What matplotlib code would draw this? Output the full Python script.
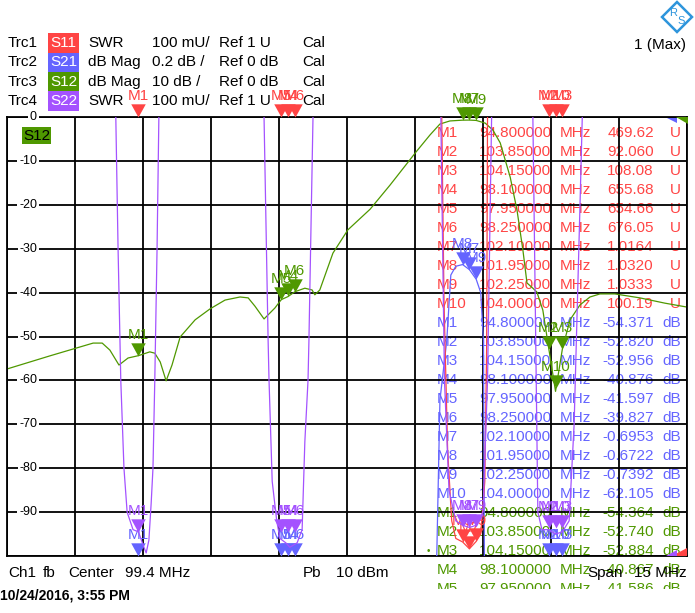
import numpy as np
import matplotlib
matplotlib.use('Agg')
import matplotlib.pyplot as plt
from matplotlib.patches import Rectangle, Polygon
from matplotlib.transforms import Bbox

plt.rcParams['font.family'] = ['Liberation Sans', 'DejaVu Sans']

W, H = 695, 613

RED = '#ff4444'
BLUE = '#6464ff'
GREEN = '#4f9800'
PURPLE = '#a452ff'

# sweep
f_center = 99.4
f_span = 15.0
f_start = f_center - f_span / 2
f_stop = f_center + f_span / 2

# markers (same frequencies on every trace)
marker_names = ['M1', 'M2', 'M3', 'M4', 'M5', 'M6', 'M7', 'M8', 'M9', 'M10']
marker_freq = [94.80, 103.85, 104.15, 98.10, 97.95, 98.25, 102.10, 101.95, 102.25, 104.00]
s11_mk = [469.62, 92.060, 108.08, 655.68, 654.66, 676.05, 1.0164, 1.0320, 1.0333, 100.19]
s21_mk = [-54.371, -52.820, -52.956, -40.876, -41.597, -39.827, -0.6953, -0.6722, -0.7392, -62.105]
s12_mk = [-54.364, -52.740, -52.884, -40.867, -41.586, -39.80, -0.70, -0.72, -0.78, -61.8]
s22_mk = [1.055, 1.064, 1.064, 1.055, 1.055, 1.055, 1.066, 1.066, 1.066, 1.064]

# traces
s12_freq = [91.90, 92.85, 93.80, 94.00, 94.17, 94.37, 94.57, 94.80, 95.05, 95.16, 95.28,
            95.41, 95.54, 95.72, 96.05, 96.38, 96.71, 97.04, 97.22, 97.37, 97.57, 97.81,
            97.95, 98.10, 98.25, 98.47, 98.63, 98.69, 98.80, 99.09, 99.42, 99.91, 100.35,
            100.92, 101.23, 101.45, 101.67, 101.95, 102.10, 102.25, 102.45, 102.62, 102.78,
            103.00, 103.15, 103.28, 103.37, 103.50, 103.59, 103.72, 103.85, 104.00, 104.15,
            104.32, 104.54, 104.76, 104.98, 105.31, 105.86, 106.41, 106.90]
s12_db = [-57.4, -54.4, -51.5, -51.5, -53.1, -56.5, -54.9, -54.36, -53.5, -53.8, -55.8,
          -60.1, -56.5, -50.1, -46.2, -43.7, -41.7, -41.0, -41.2, -43.1, -46.0, -43.5,
          -41.6, -40.9, -39.8, -39.0, -39.4, -40.5, -39.4, -31.0, -25.7, -21.0, -15.5,
          -8.0, -4.1, -1.6, -0.9, -0.72, -0.70, -0.78, -1.4, -3.0, -5.9,
          -13.7, -21.2, -30.3, -37.8, -39.0, -39.9, -44.0, -52.7, -62.5, -52.9,
          -46.2, -42.8, -41.0, -40.3, -40.3, -41.2, -42.4, -43.3]

s21_freq = [91.90, 101.30, 101.38, 101.45, 101.60, 101.69, 101.80, 101.95, 102.10,
            102.25, 102.35, 102.41, 102.43, 102.50, 106.90]
s21_db = [-57.0, -3.0, -2.0, -1.29, -1.02, -0.72, -0.68, -0.6722, -0.6953,
          -0.7392, -0.80, -1.02, -2.0, -3.0, -50.0]

s11_freq = [91.90, 101.40, 101.49, 101.54, 101.62, 101.71, 101.80, 101.95, 102.10,
            102.25, 102.35, 102.44, 102.48, 102.50, 102.58, 106.90]
s11_swr = [5.0, 3.0, 2.0, 1.58, 1.24, 1.08, 1.04, 1.032, 1.0164,
           1.0333, 1.05, 1.17, 1.47, 2.0, 3.0, 5.0]

s22_freq = [91.90, 94.28, 94.30, 94.35, 94.41, 94.48, 94.55, 94.68, 94.80, 94.92, 94.97,
            95.03, 95.08, 95.12, 95.16, 95.21, 95.25, 95.27,
            97.55, 97.57, 97.66, 97.68, 97.75, 97.85, 97.92, 98.05, 98.14, 98.30, 98.41,
            98.47, 98.54, 98.56, 98.65, 98.67,
            101.45, 101.47, 101.55, 101.65, 101.80, 101.95, 102.10, 102.25, 102.40, 102.50,
            102.59, 102.61,
            103.48, 103.50, 103.55, 103.61, 103.70, 103.85, 104.00, 104.15, 104.30, 104.41,
            104.54, 104.59, 104.61, 106.90]
s22_swr = [4.0, 2.3, 2.0, 1.70, 1.40, 1.20, 1.10, 1.06, 1.055, 1.02, 1.007,
           1.036, 1.12, 1.20, 1.40, 1.70, 2.0, 2.3,
           2.3, 2.0, 1.49, 1.40, 1.17, 1.08, 1.04, 1.03, 1.02, 1.03, 1.06,
           1.26, 1.40, 1.49, 2.0, 2.3,
           2.3, 2.0, 1.40, 1.15, 1.08, 1.07, 1.065, 1.07, 1.10, 1.40,
           2.0, 2.3,
           2.3, 2.0, 1.60, 1.10, 1.06, 1.06, 1.05, 1.055, 1.08, 1.30,
           1.80, 2.0, 2.3, 4.0]

ytick_db = list(range(0, -100, -10))

header_rows = [
    ('Trc1', 'S11', RED, 'SWR', '100 mU/', 'Ref 1 U'),
    ('Trc2', 'S21', BLUE, 'dB Mag', '0.2 dB /', 'Ref 0 dB'),
    ('Trc3', 'S12', GREEN, 'dB Mag', '10 dB /', 'Ref 0 dB'),
    ('Trc4', 'S22', PURPLE, 'SWR', '100 mU/', 'Ref 1 U'),
]


def fx(x):
    return x / W


def fy(y):
    return 1 - y / H


def ftext(x, y, s, **kw):
    kw.setdefault('fontsize', 11)
    kw.setdefault('va', 'center')
    return fig.text(fx(x), fy(y), s, **kw)


def fmt_val(v):
    d = 5 - len(str(int(abs(v))))
    return f"{v:.{d}f}"


def fmt_freq(f):
    d = 8 - len(str(int(f)))
    return f"{f:.{d}f}"


fig = plt.figure(figsize=(W / 100, H / 100), dpi=100)
rect = [fx(7), fy(556), 680 / W, 439 / H]

ax = fig.add_axes(rect)
ax.set_facecolor('none')
ax.set_xlim(f_start, f_stop)
ax.set_ylim(-100, 0)
ax.set_xticks(np.linspace(f_start, f_stop, 11))
ax.set_yticks(np.arange(-100, 1, 10))
ax.tick_params(length=0, labelbottom=False, labelleft=False)
ax.grid(True, color='black', lw=1.3)
for sp in ax.spines.values():
    sp.set_linewidth(1.3)
    sp.set_color('black')

for v in ytick_db:
    ax.text(30 / 680, v, str(v), transform=ax.get_yaxis_transform(), ha='right',
            va='center', fontsize=9, zorder=5,
            bbox=dict(fc='white', ec='none', pad=1.2))


def overlay(lo, hi):
    a = fig.add_axes(rect, sharex=ax)
    a.set_ylim(lo, hi)
    a.set_facecolor('none')
    a.axis('off')
    return a


a21 = overlay(-2, 0)
a11 = overlay(1, 2)
a22 = overlay(1, 2)

ax.plot(s12_freq, s12_db, color=GREEN, lw=0.9)
a21.plot(s21_freq, s21_db, color=BLUE, lw=0.9)
a11.plot(s11_freq, s11_swr, color=RED, lw=0.9)
a22.plot(s22_freq, s22_swr, color=PURPLE, lw=0.9)

tri = [(-0.55, 1.0), (0.55, 1.0), (0.0, 0.0)]


def draw_markers(axm, vals, lo, hi, color):
    v = np.clip(vals, lo, hi)
    axm.plot(marker_freq, v, ls='none', marker=tri, ms=19, mfc=color, mec='none',
             clip_on=False, zorder=6)
    for name, f, y in zip(marker_names, marker_freq, v):
        axm.annotate(name, (f, y), xytext=(0, 15), textcoords='offset points',
                     ha='center', va='center', color=color, fontsize=11,
                     annotation_clip=False, zorder=6)


draw_markers(ax, s12_mk, -100, 0, GREEN)
draw_markers(a21, s21_mk, -2, 0, BLUE)
draw_markers(a11, s11_mk, 1, 2, RED)
draw_markers(a22, s22_mk, 1, 2, PURPLE)

# header
for i, (trc, sp, col, fmt, scale, ref) in enumerate(header_rows):
    y = 43 + i * 19.3
    ftext(8, y, trc)
    fig.add_artist(Rectangle((fx(48), fy(y + 9.7)), 31 / W, 19.3 / H, fc=col, ec='none',
                             transform=fig.transFigure))
    ftext(63.5, y, sp, color='white', ha='center')
    ftext(88, y, fmt)
    ftext(152, y, scale)
    ftext(219, y, ref)
    ftext(302, y, 'Cal')

ftext(686, 45, '1 (Max)', ha='right')

# S12 label box
fig.add_artist(Rectangle((fx(22), fy(144)), 29 / W, 17 / H, fc=GREEN, ec='none',
                         transform=fig.transFigure, zorder=4))
ftext(36.5, 135.5, 'S12', ha='center', zorder=5)

# marker table, behind the grid, cut off at the bottom of the screen
clip = Bbox.from_extents(0, H - 589, W, H)
table = [(s11_mk, 'U', RED), (s21_mk, 'dB', BLUE), (s12_mk, 'dB', GREEN)]
row = 0
for vals, unit, col in table:
    for name, f, v in zip(marker_names, marker_freq, vals):
        y = 133 + row * 19.0
        row += 1
        if y > 600:
            continue
        for x, s, ha in [(437, name, 'left'), (479, fmt_freq(f), 'left'),
                         (560, 'MHz', 'left'), (654, fmt_val(v), 'right'),
                         (681, unit, 'right')]:
            t = ftext(x, y, s, color=col, ha=ha, zorder=-1)
            t.set_clip_box(clip)
            t.set_clip_on(True)
ftext(428, 551, '\u2022', color=GREEN, fontsize=7, ha='center')

# reference position arrows on the right edge
for pts, col in [([(676, 117), (688, 117), (688, 124)], GREEN),
                 ([(667, 117.5), (677, 117.5), (677, 123)], BLUE),
                 ([(672, 556), (687, 548), (687, 556)], RED),
                 ([(666, 556), (677, 550), (677, 556)], PURPLE)]:
    fig.add_artist(Polygon([(fx(a), fy(b)) for a, b in pts], closed=True, fc=col,
                           ec='none', transform=fig.transFigure, zorder=5))

# footer
ftext(8, 573, 'Ch1')
ftext(43, 573, 'fb')
ftext(68, 573, 'Center')
ftext(125, 573, '99.4 MHz')
ftext(303, 573, 'Pb')
ftext(336, 573, '10 dBm')
ftext(587, 573, 'Span')
ftext(687, 573, '15 MHz', ha='right')
ftext(0, 596, '10/24/2016, 3:55 PM', fontsize=10, fontweight='bold')

# R&S logo
fig.add_artist(Polygon([(fx(677), fy(2)), (fx(692), fy(17)), (fx(677), fy(32)),
                        (fx(662), fy(17))], closed=True, fc='white', ec='#2e95dc',
                       lw=1.8, transform=fig.transFigure))
ftext(673, 13, 'R', color='#2e95dc', fontsize=8, ha='center')
ftext(681, 21, 'S', color='#2e95dc', fontsize=8, ha='center')

fig.savefig('out.png', dpi=100, facecolor='white')
